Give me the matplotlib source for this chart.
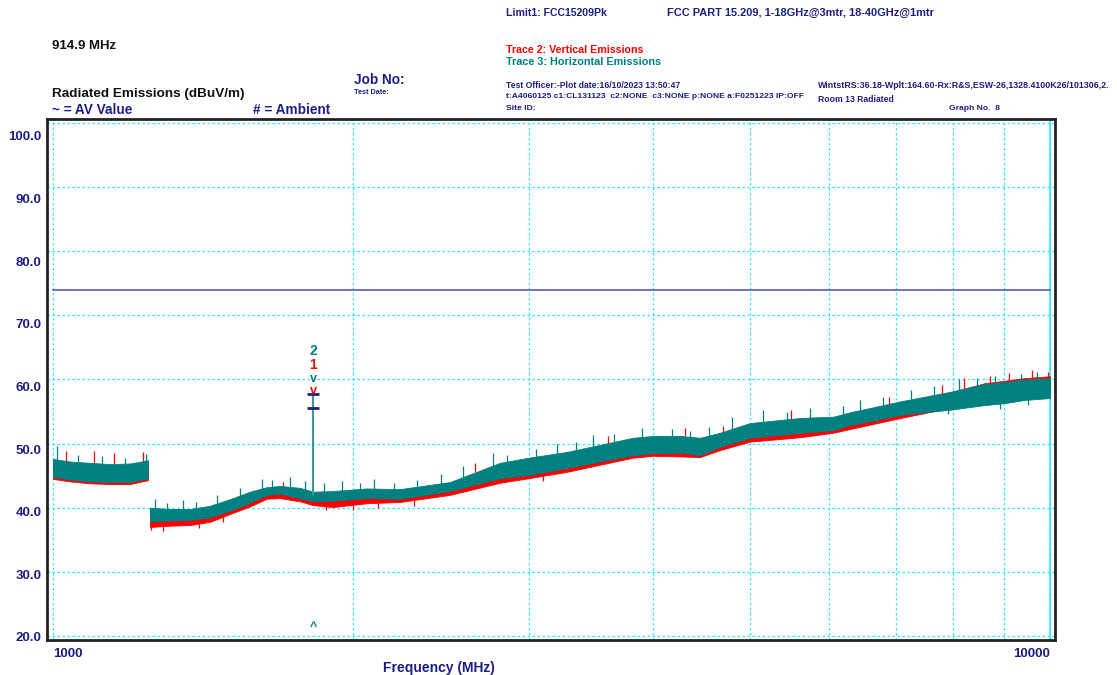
import numpy as np
import matplotlib.pyplot as plt

plt.rcParams['font.family'] = ['Liberation Sans', 'DejaVu Sans']

NAVY = '#1e1e82'
TEAL = '#008080'
RED = '#ff0000'
CYAN = '#30e8f8'

#-------------------------------------------------------------------------------
# Data (frequency in MHz, level in dBuV/m)

# first sweep segment, 1000 - 1245 MHz
freq_a = [1000, 1040, 1089, 1141, 1195, 1245]
teal_hi_a = [47.6, 47.2, 47.0, 46.8, 46.9, 47.4]
teal_lo_a = [44.8, 44.4, 44.1, 44.0, 44.0, 44.6]
red_hi_a = [47.2, 46.8, 46.6, 46.4, 46.5, 47.0]
red_lo_a = [44.5, 44.1, 43.8, 43.7, 43.7, 44.3]

# second sweep segment, 1251 - 10000 MHz
freq_b = [1251, 1310, 1372, 1437, 1515, 1576, 1638, 1689, 1769, 1823, 1908,
          2064, 2229, 2501, 2808, 3000, 3277, 3536, 3815, 4000, 4254, 4458,
          4669, 5000, 5621, 6066, 6311, 7087, 7958, 8593, 8999, 9424, 10000]
teal_hi_b = [40.0, 39.8, 39.8, 40.3, 41.5, 42.5, 43.2, 43.4, 43.1, 42.5, 42.6,
             43.0, 42.9, 44.0, 47.0, 47.8, 48.7, 49.8, 50.9, 51.2, 51.2, 50.9,
             51.7, 53.2, 54.0, 54.2, 54.9, 56.6, 58.1, 59.3, 59.6, 60.0, 60.2]
teal_lo_b = [37.9, 38.0, 38.1, 38.5, 39.7, 40.8, 42.0, 42.2, 41.5, 41.0, 41.1,
             41.5, 41.4, 42.6, 44.6, 45.1, 46.2, 47.2, 48.2, 48.5, 48.6, 48.2,
             49.5, 50.9, 51.7, 52.1, 52.9, 54.5, 55.3, 56.0, 56.3, 56.8, 57.1]
red_hi_b = [39.3, 39.2, 39.3, 39.8, 41.0, 42.0, 42.6, 42.8, 42.4, 41.8, 41.8,
            42.1, 42.2, 43.3, 46.2, 46.9, 47.8, 49.0, 50.2, 50.5, 50.4, 50.2,
            51.0, 52.6, 53.5, 53.9, 54.5, 56.2, 58.0, 59.4, 59.8, 60.2, 60.5]
red_lo_b = [37.0, 37.2, 37.3, 37.8, 39.2, 40.2, 41.4, 41.5, 41.0, 40.4, 40.1,
            40.7, 40.9, 42.0, 43.9, 44.6, 45.6, 46.7, 47.8, 48.1, 48.0, 47.9,
            49.0, 50.3, 51.0, 51.7, 52.3, 54.0, 55.6, 56.5, 56.8, 57.2, 57.5]

# noise spikes sticking out of the bands (freq, from, to)
teal_spike_f = [1010, 1060, 1120, 1180, 1240, 1265, 1300, 1350, 1390, 1460,
                1540, 1620, 1660, 1730, 1790, 1870, 1950, 2030, 2100, 2200,
                2320, 2450, 2580, 2760, 2850, 3050, 3200, 3350, 3480, 3650,
                3900, 4180, 4350, 4550, 4800, 5150, 5450, 5750, 6200, 6450,
                6800, 7250, 7650, 8100, 8450, 8800, 9350, 9700, 6700, 7900,
                8900, 9500]
teal_spike_lo = [47.0, 46.8, 46.6, 46.6, 47.0, 39.6, 39.5, 39.5, 39.6, 40.4,
                 41.5, 42.6, 43.0, 43.0, 42.8, 42.4, 42.4, 42.6, 42.7, 42.6,
                 43.0, 43.6, 44.8, 46.5, 47.0, 47.8, 48.3, 48.9, 49.5, 50.2,
                 50.9, 51.0, 50.8, 51.0, 52.2, 53.4, 53.7, 53.9, 54.5, 55.2,
                 55.9, 56.9, 57.5, 58.4, 58.9, 59.4, 59.8, 59.9, 54.0, 55.6,
                 56.4, 57.0]
teal_spike_hi = [49.6, 48.2, 48.0, 47.8, 48.4, 41.3, 40.8, 41.2, 40.9, 42.0,
                 43.0, 44.5, 44.3, 44.8, 44.2, 43.8, 44.2, 43.9, 44.5, 43.8,
                 44.4, 45.2, 46.5, 48.6, 48.2, 49.2, 50.0, 50.2, 51.3, 51.5,
                 52.4, 52.2, 52.0, 52.6, 54.1, 55.2, 55.0, 55.6, 55.9, 56.8,
                 57.3, 58.3, 59.0, 60.0, 60.3, 60.6, 60.9, 61.2, 53.2, 54.6,
                 55.4, 56.0]
red_spike_f = [1030, 1100, 1150, 1230, 1255, 1290, 1400, 1480, 1700, 1880,
               2000, 2120, 2300, 2600, 2650, 3100, 3600, 4300, 4700, 5500,
               6900, 7800, 8200, 8700, 9100, 9600, 9950]
red_spike_lo = [47.2, 47.0, 46.8, 47.3, 38.0, 37.2, 37.5, 38.6, 42.8, 40.6,
                40.4, 40.8, 41.2, 43.5, 45.5, 44.9, 49.8, 51.2, 51.5, 53.8,
                55.8, 57.8, 58.5, 59.2, 59.6, 60.0, 60.2]
red_spike_hi = [48.8, 48.9, 48.6, 48.7, 36.5, 36.3, 36.8, 37.8, 44.0, 39.6,
                39.6, 39.9, 40.3, 42.6, 47.0, 44.2, 51.2, 52.4, 52.8, 55.2,
                57.2, 59.2, 60.3, 60.6, 61.0, 61.4, 61.2]

# limit line FCC 15.209 peak
limit_freq = [1000, 10000]
limit_level = [74.0, 74.0]

# marker at the peak
peak_freq = 1823
peak_base = 42.0
peak_level = 57.7
peak_levels2 = [57.7, 55.6]

x_ticks = [1000, 10000]
x_labels = ['1000', '10000']
x_grid = [1000, 2000, 3000, 4000, 5000, 6000, 7000, 8000, 9000, 10000]
y_grid = [20, 30, 40, 50, 60, 70, 80, 90, 100]
y_labels = ['20.0', '30.0', '40.0', '50.0', '60.0', '70.0', '80.0', '90.0', '100.0']

#-------------------------------------------------------------------------------
# Figure

fig = plt.figure(figsize=(11.17, 6.75), dpi=100)
ax = fig.add_axes([0.0421, 0.0519, 0.9024, 0.7719])
ax.set_xscale('log')
ax.set_xlim(986.2, 10116)
ax.set_ylim(19.38, 100.62)

for s in ax.spines.values():
    s.set_linewidth(2)
    s.set_color('#222222')

# grid
for g in x_grid:
    ax.axvline(g, color=CYAN, lw=0.9, ls=(0, (2, 2)), zorder=0)
for g in y_grid:
    ax.axhline(g, color=CYAN, lw=0.9, ls=(0, (2, 2)), zorder=0)
ax.axvline(10000, color=CYAN, lw=1.2, zorder=0)

ax.plot(limit_freq, limit_level, color='#5a5aaa', lw=1.2, zorder=2)

# traces
ax.fill_between(freq_a, red_lo_a, red_hi_a, color=RED, lw=0.6, zorder=3)
ax.fill_between(freq_b, red_lo_b, red_hi_b, color=RED, lw=0.6, zorder=3)
ax.vlines(red_spike_f, red_spike_lo, red_spike_hi, color=RED, lw=0.9, zorder=3)
ax.fill_between(freq_a, teal_lo_a, teal_hi_a, color=TEAL, lw=0.6, zorder=4)
ax.fill_between(freq_b, teal_lo_b, teal_hi_b, color=TEAL, lw=0.6, zorder=4)
ax.vlines(teal_spike_f, teal_spike_lo, teal_spike_hi, color=TEAL, lw=0.9, zorder=4)

# peak marker
ax.vlines(peak_freq, peak_base, peak_level, color='#3a9a9a', lw=1.5, zorder=5)
ax.plot([peak_freq] * 2, peak_levels2, ls='none', marker='_', ms=8, mew=2,
        color=NAVY, zorder=6)
mk = dict(ha='center', va='center', fontweight='bold', zorder=7)
ax.text(peak_freq, 58.2, 'v', color=RED, fontsize=9, **mk)
ax.text(peak_freq, 60.0, 'v', color=TEAL, fontsize=9, **mk)
ax.text(peak_freq, 62.2, '1', color=RED, fontsize=10, **mk)
ax.text(peak_freq, 64.4, '2', color=TEAL, fontsize=10, **mk)
ax.text(peak_freq, 21.4, '^', color=TEAL, fontsize=9, **mk)

# ticks
ax.set_xticks(x_ticks)
ax.set_xticklabels(x_labels)
ax.xaxis.set_minor_locator(plt.NullLocator())
ax.tick_params(axis='x', length=0, pad=6, labelsize=9.5, labelcolor=NAVY)
for lab, ha in zip(ax.get_xticklabels(), ['left', 'right']):
    lab.set_ha(ha)
    lab.set_fontweight('bold')
ax.get_xticklabels()[0].set_x(1000)
ax.set_yticks([])

# y labels sit on a slightly different scale than the grid in the original
ay = ax.twinx()
ay.set_ylim(19.52, 102.72)
ay.yaxis.tick_left()
ay.set_yticks(y_grid)
ay.set_yticklabels(y_labels)
ay.tick_params(axis='y', length=0, pad=4, labelsize=9.5, labelcolor=NAVY)
for lab in ay.get_yticklabels():
    lab.set_fontweight('bold')
for s in ay.spines.values():
    s.set_visible(False)

ax.set_xlabel('Frequency (MHz)', fontsize=10, fontweight='bold', color=NAVY)
ax.xaxis.set_label_coords(0.389, -0.04)

#-------------------------------------------------------------------------------
# Header text

def txt(x, y, s, size, color=NAVY):
    fig.text(x / 1117, 1 - y / 675, s, fontsize=size, color=color,
             fontweight='bold', ha='left', va='center')

txt(506, 13, 'Limit1: FCC15209Pk', 7.6)
txt(667, 13, 'FCC PART 15.209, 1-18GHz@3mtr, 18-40GHz@1mtr', 7.9)
txt(52, 46, '914.9 MHz', 9.5, '#111111')
txt(506, 50, 'Trace 2: Vertical Emissions', 7.7, RED)
txt(506, 62, 'Trace 3: Horizontal Emissions', 7.8, TEAL)
txt(354, 80, 'Job No:', 9.8)
txt(354, 92, 'Test Date:', 5.2)
txt(52, 94, 'Radiated Emissions (dBuV/m)', 9.7, '#111111')
txt(52, 110, '~ = AV Value', 9.8)
txt(253, 110, '# = Ambient', 9.8)
txt(506, 85, 'Test Officer:-Plot date:16/10/2023 13:50:47', 6.25)
txt(506, 97, 't:A4060125 c1:CL131123  c2:NONE  c3:NONE p:NONE a:F0251223 IP:OFF', 6.1)
txt(506, 108, 'Site ID:', 6.1)
txt(818, 86, 'WintstRS:36.18-Wplt:164.60-Rx:R&S,ESW-26,1328.4100K26/101306,2.', 6.4)
txt(818, 99, 'Room 13 Radiated', 6.25)
txt(949, 108, 'Graph No.  8', 6.1)

fig.savefig('out.png', dpi=100)
